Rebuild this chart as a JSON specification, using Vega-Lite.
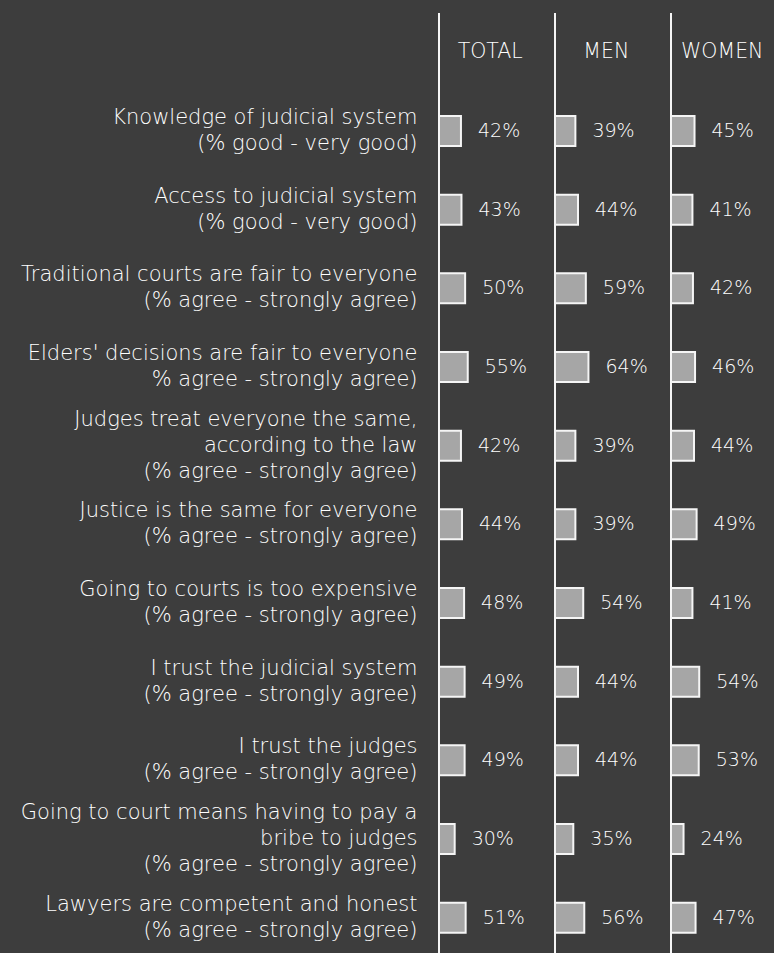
{
  "$schema": "https://vega.github.io/schema/vega-lite/v6.json",
  "padding": {"left": 0, "top": 12, "right": 0, "bottom": 0},
  "background": "#3d3d3d",
  "config": {"view": {"stroke": null}, "font": "DejaVu Sans"},
  "data": {"values": [
    {"q": "Knowledge of judicial system|(% good - very good)", "g": "TOTAL", "v": 0.42},
    {"q": "Knowledge of judicial system|(% good - very good)", "g": "MEN", "v": 0.39},
    {"q": "Knowledge of judicial system|(% good - very good)", "g": "WOMEN", "v": 0.45},
    {"q": "Access to judicial system|(% good - very good)", "g": "TOTAL", "v": 0.43},
    {"q": "Access to judicial system|(% good - very good)", "g": "MEN", "v": 0.44},
    {"q": "Access to judicial system|(% good - very good)", "g": "WOMEN", "v": 0.41},
    {"q": "Traditional courts are fair to everyone|(% agree - strongly agree)", "g": "TOTAL", "v": 0.50},
    {"q": "Traditional courts are fair to everyone|(% agree - strongly agree)", "g": "MEN", "v": 0.59},
    {"q": "Traditional courts are fair to everyone|(% agree - strongly agree)", "g": "WOMEN", "v": 0.42},
    {"q": "Elders' decisions are fair to everyone|% agree - strongly agree)", "g": "TOTAL", "v": 0.55},
    {"q": "Elders' decisions are fair to everyone|% agree - strongly agree)", "g": "MEN", "v": 0.64},
    {"q": "Elders' decisions are fair to everyone|% agree - strongly agree)", "g": "WOMEN", "v": 0.46},
    {"q": "Judges treat everyone the same,|according to the law|(% agree - strongly agree)", "g": "TOTAL", "v": 0.42},
    {"q": "Judges treat everyone the same,|according to the law|(% agree - strongly agree)", "g": "MEN", "v": 0.39},
    {"q": "Judges treat everyone the same,|according to the law|(% agree - strongly agree)", "g": "WOMEN", "v": 0.44},
    {"q": "Justice is the same for everyone|(% agree - strongly agree)", "g": "TOTAL", "v": 0.44},
    {"q": "Justice is the same for everyone|(% agree - strongly agree)", "g": "MEN", "v": 0.39},
    {"q": "Justice is the same for everyone|(% agree - strongly agree)", "g": "WOMEN", "v": 0.49},
    {"q": "Going to courts is too expensive|(% agree - strongly agree)", "g": "TOTAL", "v": 0.48},
    {"q": "Going to courts is too expensive|(% agree - strongly agree)", "g": "MEN", "v": 0.54},
    {"q": "Going to courts is too expensive|(% agree - strongly agree)", "g": "WOMEN", "v": 0.41},
    {"q": "I trust the judicial system|(% agree - strongly agree)", "g": "TOTAL", "v": 0.49},
    {"q": "I trust the judicial system|(% agree - strongly agree)", "g": "MEN", "v": 0.44},
    {"q": "I trust the judicial system|(% agree - strongly agree)", "g": "WOMEN", "v": 0.54},
    {"q": "I trust the judges|(% agree - strongly agree)", "g": "TOTAL", "v": 0.49},
    {"q": "I trust the judges|(% agree - strongly agree)", "g": "MEN", "v": 0.44},
    {"q": "I trust the judges|(% agree - strongly agree)", "g": "WOMEN", "v": 0.53},
    {"q": "Going to court means having to pay a|bribe to judges|(% agree - strongly agree)", "g": "TOTAL", "v": 0.30},
    {"q": "Going to court means having to pay a|bribe to judges|(% agree - strongly agree)", "g": "MEN", "v": 0.35},
    {"q": "Going to court means having to pay a|bribe to judges|(% agree - strongly agree)", "g": "WOMEN", "v": 0.24},
    {"q": "Lawyers are competent and honest|(% agree - strongly agree)", "g": "TOTAL", "v": 0.51},
    {"q": "Lawyers are competent and honest|(% agree - strongly agree)", "g": "MEN", "v": 0.56},
    {"q": "Lawyers are competent and honest|(% agree - strongly agree)", "g": "WOMEN", "v": 0.47}
  ]},
  "facet": {"column": {"field": "g", "type": "nominal", "sort": ["TOTAL", "MEN", "WOMEN"], "title": null, "header": {"labels": false, "title": null}}},
  "spacing": 0,
  "spec": {
    "width": 115,
    "height": 944,
    "layer": [
      {
        "mark": {"type": "bar", "fill": "#a6a6a6", "stroke": "#f5f5f5", "strokeWidth": 2, "height": 30},
        "encoding": {
          "x": {"field": "v", "type": "quantitative", "scale": {"domain": [0, 2.04]}, "axis": null},
          "y": {"field": "q", "type": "nominal", "sort": null,
            "scale": {"domain": ["_header",
              "Knowledge of judicial system|(% good - very good)",
              "Access to judicial system|(% good - very good)",
              "Traditional courts are fair to everyone|(% agree - strongly agree)",
              "Elders' decisions are fair to everyone|% agree - strongly agree)",
              "Judges treat everyone the same,|according to the law|(% agree - strongly agree)",
              "Justice is the same for everyone|(% agree - strongly agree)",
              "Going to courts is too expensive|(% agree - strongly agree)",
              "I trust the judicial system|(% agree - strongly agree)",
              "I trust the judges|(% agree - strongly agree)",
              "Going to court means having to pay a|bribe to judges|(% agree - strongly agree)",
              "Lawyers are competent and honest|(% agree - strongly agree)"], "paddingInner": 0, "paddingOuter": 0},
            "axis": {"title": null, "ticks": false, "tickSize": 0, "domain": false, "labelPadding": 21, "labelFontSize": 21, "labelColor": "#ffffff", "labelLineHeight": 26, "labelLimit": 600, "labelOverlap": false, "labelAlign": "right", "labelBaseline": "middle", "labelFont": "DejaVu Sans", "labelFontWeight": 200, "minExtent": 438, "maxExtent": 438,
              "labelOffset": {"condition": {"test": "length(split(datum.value, '|')) >= 3", "value": -26}, "value": -13},
              "labelExpr": "datum.value == '_header' ? '' : split(datum.value, '|')"}
          }
        }
      },
      {
        "mark": {"type": "text", "align": "left", "baseline": "middle", "dx": 17, "fontSize": 19, "fontWeight": 200, "color": "#ffffff"},
        "encoding": {
          "x": {"field": "v", "type": "quantitative"},
          "y": {"field": "q", "type": "nominal", "sort": null},
          "text": {"field": "v", "type": "quantitative", "format": ".0%"}
        }
      },
      {
        "transform": [{"filter": "datum.q == 'I trust the judges|(% agree - strongly agree)'"}],
        "mark": {"type": "rule", "color": "#f5f5f5", "strokeWidth": 2},
        "encoding": {"x": {"datum": 0, "type": "quantitative"}}
      },
      {
        "transform": [{"filter": "datum.q == 'I trust the judges|(% agree - strongly agree)'"}],
        "mark": {"type": "text", "align": "center", "baseline": "middle", "fontSize": 20.5, "fontWeight": 200, "color": "#ffffff"},
        "encoding": {
          "x": {"datum": 0.98, "type": "quantitative"},
          "y": {"datum": "_header", "type": "nominal"},
          "text": {"field": "g"}
        }
      }
    ]
  }
}
